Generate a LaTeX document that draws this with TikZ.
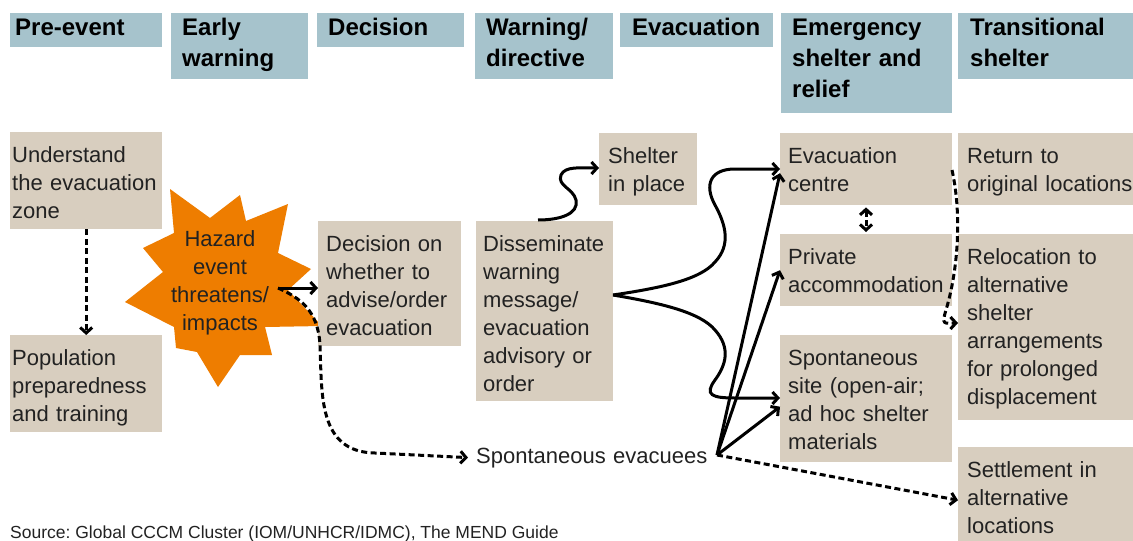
\documentclass[tikz,border=0pt]{standalone}
\usepackage{fontspec}
\setmainfont{Liberation Sans}
\usetikzlibrary{arrows.meta,calc}
\definecolor{hdr}{HTML}{A6C3CC}
\definecolor{bg}{HTML}{D8CEBF}
\definecolor{haz}{HTML}{EE7D00}
\definecolor{txt}{HTML}{222222}
\frenchspacing
\begin{document}
\begin{tikzpicture}[x=1pt,y=-1pt,
  hbox/.style={fill=hdr,draw=none,inner sep=0,anchor=north west},
  bbox/.style={fill=bg,draw=none,inner sep=0,anchor=north west},
  htext/.style={anchor=base west,inner sep=0,align=left,text width=250,
    font=\fontsize{24}{31}\selectfont\bfseries,text=black},
  btext/.style={anchor=base west,inner sep=0,align=left,text width=250,
    font=\fontsize{22}{28}\selectfont,text=txt},
  tip/.tip={Straight Barb[length=5.5pt,width=12pt]},
  conn/.style={line width=3pt,-tip},
  dconn/.style={conn,dash pattern=on 6pt off 3.5pt},
]
\useasboundingbox (0,0) rectangle (1133,541);

% headers
\node[hbox,minimum width=152,minimum height=34] (h1) at (10,13) {};
\node[htext] (h1t) at (15,35) {Pre-event};
\node[hbox,minimum width=137,minimum height=66] (h2) at (171,13) {};
\node[htext] (h2t) at (182,35) {Early\\warning};
\node[hbox,minimum width=147,minimum height=34] (h3) at (317,13) {};
\node[htext] (h3t) at (328,35) {Decision};
\node[hbox,minimum width=138,minimum height=66] (h4) at (475,13) {};
\node[htext] (h4t) at (486,35) {Warning/\\directive};
\node[hbox,minimum width=153,minimum height=34] (h5) at (620,13) {};
\node[htext] (h5t) at (632,35) {Evacuation};
\node[hbox,minimum width=171,minimum height=100] (h6) at (781,13) {};
\node[htext] (h6t) at (792,35) {Emergency\\shelter and\\relief};
\node[hbox,minimum width=175,minimum height=66] (h7) at (958,13) {};
\node[htext] (h7t) at (970,35) {Transitional\\shelter};

% hazard star
\fill[haz] (170,189) -- (210,218) -- (240,195) -- (246,221) -- (288,204) -- (278,253)
  -- (311,269) -- (288,290) -- (322,326) -- (265,327) -- (272,355) -- (240,355)
  -- (218,387) -- (197,352) -- (176,348) -- (174,327) -- (125,302) -- (163,272)
  -- (143,248) -- (174,233) -- cycle;
\node[anchor=base,inner sep=0,align=center,text width=140,
  font=\fontsize{22}{28}\selectfont,text=txt] (hz) at (220,246)
  {Hazard\\event\\threatens/\\impacts};

% body boxes
\node[bbox,minimum width=152,minimum height=97] (und) at (10,132) {};
\node[btext] (undt) at (12,162) {Understand\\the evacuation\\zone};
\node[bbox,minimum width=152,minimum height=97] (pop) at (10,335) {};
\node[btext] (popt) at (12,365) {Population\\preparedness\\and training};
\node[bbox,minimum width=143,minimum height=125] (dec) at (318,221) {};
\node[btext] (dect) at (326,251) {Decision on\\whether to\\advise/order\\evacuation};
\node[bbox,minimum width=137,minimum height=180] (dis) at (476,221) {};
\node[btext] (dist) at (483,251) {Disseminate\\warning\\message/\\evacuation\\advisory or\\order};
\node[bbox,minimum width=98,minimum height=72] (sip) at (599,133) {};
\node[btext] (sipt) at (608,163) {Shelter\\in place};
\node[bbox,minimum width=172,minimum height=72] (evc) at (780,133) {};
\node[btext] (evct) at (788,163) {Evacuation\\centre};
\node[bbox,minimum width=172,minimum height=72] (pri) at (780,234) {};
\node[btext] (prit) at (788,264) {Private\\accommodation};
\node[bbox,minimum width=172,minimum height=127] (sps) at (780,335) {};
\node[btext] (spst) at (788,365) {Spontaneous\\site (open-air;\\ad hoc shelter\\materials};
\node[bbox,minimum width=175,minimum height=72] (ret) at (958,133) {};
\node[btext] (rett) at (967,163) {Return to\\original locations};
\node[bbox,minimum width=175,minimum height=186] (rel) at (958,234) {};
\node[btext] (relt) at (967,264) {Relocation to\\alternative\\shelter\\arrangements\\for prolonged\\displacement};
\node[bbox,minimum width=175,minimum height=94] (set) at (958,447) {};
\node[btext] (sett) at (967,477) {Settlement in\\alternative\\locations};

\node[btext] (spe) at (476,463) {Spontaneous evacuees};

\node[anchor=base west,inner sep=0,font=\fontsize{17.5}{20}\selectfont,text=txt] (src)
  at (10,538) {Source: Global CCCM Cluster (IOM/UNHCR/IDMC), The MEND Guide};

% connector points
\coordinate (hzs) at (278,288);
\coordinate (dso) at (613,295);
\coordinate (dst) at (538,220);
\coordinate (spo) at (717,455);
\coordinate (evo) at (952,170);

% connectors
\draw[dconn] (und.south) -- (pop.north);
\draw[conn] (hzs) -- (dec.west |- hzs);
\draw[dconn] (hzs) .. controls (300,298) and (318,310) .. (320,345)
  .. controls (322,395) and (318,452) .. (375,453) -- ([xshift=-8]spe.west);
\draw[conn] (dst) .. controls (560,220) and (579,214) .. (576,200)
  .. controls (573,188) and (557,186) .. (561,175)
  .. controls (565,166) and (580,168) .. (sip.west |- 0,168);
\draw[conn] (dso) .. controls (660,288) and (700,280) .. (715,262)
  .. controls (731,245) and (726,225) .. (715,205)
  .. controls (704,185) and (710,169) .. (735,169) -- (evc.west |- 0,169);
\draw[conn] (dso) .. controls (660,303) and (700,312) .. (715,330)
  .. controls (731,348) and (726,365) .. (715,380)
  .. controls (704,395) and (712,398) .. (735,398) -- (sps.west |- 0,398);
\draw[conn] (spo) -- ([yshift=-4]evc.west);
\draw[conn] (spo) -- (pri.west);
\draw[conn] (spo) -- ([yshift=-8]sps.west);
\draw[dconn] (spo) -- ([yshift=-6]set.west);
\draw[dconn,tip-tip]
  ([yshift=-2]evc.south -| 866,0) -- ([yshift=2]pri.north -| 866,0);
\draw[dconn] (evo) .. controls (962,215) and (958,270) .. (946,310)
  .. controls (941,326) and (945,323) .. ([yshift=4]rel.west |- 0,327);
\end{tikzpicture}
\end{document}
